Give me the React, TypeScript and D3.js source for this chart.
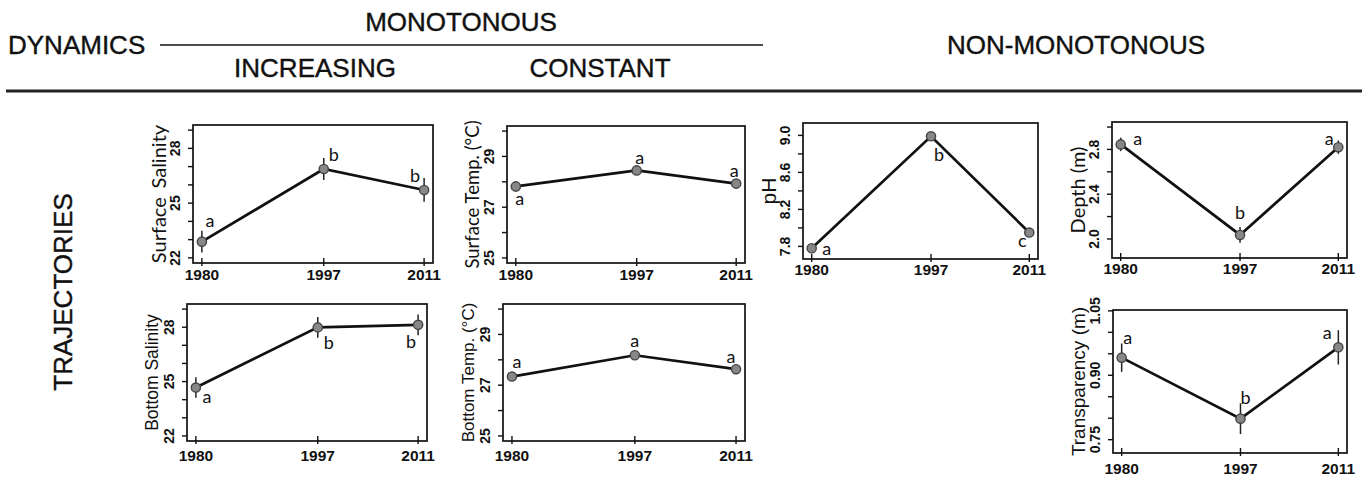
import React from "react";
import * as d3 from "d3";

// ---------- data ----------
const years = [1980, 1997, 2011];

const surfaceSalinity = [22.89, 26.87, 25.72];
const surfaceSalinityErr = [0.6, 0.6, 0.65];
const surfaceSalinityGroups = ["a", "b", "b"];

const surfaceTemp = [27.82, 28.45, 27.93];
const surfaceTempErr = [0.2, 0.05, 0.15];
const surfaceTempGroups = ["a", "a", "a"];

const pHValues = [7.78, 8.99, 7.95];
const pHErr = [0.02, 0.02, 0.02];
const pHGroups = ["a", "b", "c"];

const depth = [2.845, 2.036, 2.82];
const depthErr = [0.06, 0.07, 0.06];
const depthGroups = ["a", "b", "a"];

const bottomSalinity = [24.67, 27.99, 28.13];
const bottomSalinityErr = [0.57, 0.57, 0.57];
const bottomSalinityGroups = ["a", "b", "b"];

const bottomTemp = [27.34, 28.18, 27.63];
const bottomTempErr = [0.12, 0.05, 0.12];
const bottomTempGroups = ["a", "a", "a"];

const transparency = [0.941, 0.799, 0.965];
const transparencyErr = [0.033, 0.036, 0.04];
const transparencyGroups = ["a", "b", "a"];

// ---------- ticks ----------
const salinityTicks = [22, 23, 24, 25, 26, 27, 28, 29];
const salinityTickLabels = [22, 25, 28];
const tempTicks = [25, 26, 27, 28, 29, 30];
const tempTickLabels = [25, 27, 29];
const pHTicks = [7.8, 8.0, 8.2, 8.4, 8.6, 8.8, 9.0];
const pHTickLabels = [7.8, 8.2, 8.6, 9.0];
const depthTicks = [2.0, 2.2, 2.4, 2.6, 2.8, 3.0];
const depthTickLabels = [2.0, 2.4, 2.8];
const transparencyTicks = [0.75, 0.8, 0.85, 0.9, 0.95, 1.0, 1.05];
const transparencyTickLabels = [0.75, 0.9, 1.05];

// ---------- layout ----------
const ARIAL = "'Liberation Sans', Arial, sans-serif";
const CALIBRI = "Lato, 'Open Sans', sans-serif";

type Panel = {
  title: string[];
  titleFont: string;
  titleSize: number;
  titleWeight?: string;
  box: [number, number, number, number]; // x0, y0, x1, y1
  yDomain: [number, number];
  values: number[];
  errs: number[];
  groups: string[];
  ticks: number[];
  tickLabels: number[];
  fmt: (v: number) => string;
  letterOffsets: [number, number][];
  xLabelDy: number;
};

const panels: Panel[] = [
  {
    title: ["Surface", "Salinity"], titleFont: CALIBRI, titleSize: 20,
    box: [193, 125, 433, 263], yDomain: [21.72, 29.28],
    values: surfaceSalinity, errs: surfaceSalinityErr, groups: surfaceSalinityGroups,
    ticks: salinityTicks, tickLabels: salinityTickLabels, fmt: d3.format("d"),
    letterOffsets: [[8, -15], [10, -8], [-9, -8]], xLabelDy: 16.5,
  },
  {
    title: ["Surface Temp. (°C)"], titleFont: CALIBRI, titleSize: 18.5,
    box: [507, 126, 745, 263], yDomain: [24.8, 30.2],
    values: surfaceTemp, errs: surfaceTempErr, groups: surfaceTempGroups,
    ticks: tempTicks, tickLabels: tempTickLabels, fmt: d3.format("d"),
    letterOffsets: [[4, 19], [3, -6], [-2, -7]], xLabelDy: 16.5,
  },
  {
    title: ["pH"], titleFont: ARIAL, titleSize: 21,
    box: [803, 123, 1038, 259], yDomain: [7.664, 9.134],
    values: pHValues, errs: pHErr, groups: pHGroups,
    ticks: pHTicks, tickLabels: pHTickLabels, fmt: d3.format(".1f"),
    letterOffsets: [[15, 7], [8, 25], [-7, 14]], xLabelDy: 16,
  },
  {
    title: ["Depth (m)"], titleFont: CALIBRI, titleSize: 20,
    box: [1112, 122, 1347, 258], yDomain: [1.83, 3.045],
    values: depth, errs: depthErr, groups: depthGroups,
    ticks: depthTicks, tickLabels: depthTickLabels, fmt: d3.format(".1f"),
    letterOffsets: [[17, 1], [0, -16], [-9, -2]], xLabelDy: 16,
  },
  {
    title: ["Bottom Salinity"], titleFont: ARIAL, titleSize: 17.5,
    box: [187, 304, 427, 441], yDomain: [21.72, 29.28],
    values: bottomSalinity, errs: bottomSalinityErr, groups: bottomSalinityGroups,
    ticks: salinityTicks, tickLabels: salinityTickLabels, fmt: d3.format("d"),
    letterOffsets: [[11, 15], [11, 22], [-7, 23]], xLabelDy: 19.5,
  },
  {
    title: ["Bottom Temp. (°C)"], titleFont: ARIAL, titleSize: 17,
    box: [503, 304, 745, 441], yDomain: [24.8, 30.2],
    values: bottomTemp, errs: bottomTempErr, groups: bottomTempGroups,
    ticks: tempTicks, tickLabels: tempTickLabels, fmt: d3.format("d"),
    letterOffsets: [[5, -9], [0, -8.5], [-5, -6]], xLabelDy: 19.5,
  },
  {
    title: ["Transparency (m)"], titleFont: ARIAL, titleSize: 19,
    box: [1113, 310, 1347, 453], yDomain: [0.719, 1.052],
    values: transparency, errs: transparencyErr, groups: transparencyGroups,
    ticks: transparencyTicks, tickLabels: transparencyTickLabels, fmt: d3.format(".2f"),
    letterOffsets: [[6, -14], [5, -15], [-11, -8]], xLabelDy: 21,
  },
];

const xPad = (years[years.length - 1] - years[0]) * 0.04;

function PanelView({ p }: { p: Panel }) {
  const [x0, y0, x1, y1] = p.box;
  const x = d3.scaleLinear().domain([years[0] - xPad, years[years.length - 1] + xPad]).range([x0, x1]);
  const y = d3.scaleLinear().domain(p.yDomain).range([y1, y0]);
  const line = d3
    .line<number>()
    .x((_, i) => x(years[i]))
    .y((v) => y(v));
  const cy = (y0 + y1) / 2;
  const titleX = x0 - 35;
  return (
    <g>
      <rect x={x0} y={y0} width={x1 - x0} height={y1 - y0} fill="none" stroke="#111" strokeWidth={1.7} />
      {p.ticks.map((t) => (
        <line key={"yt" + t} x1={x0 - 5} x2={x0} y1={y(t)} y2={y(t)} stroke="#111" strokeWidth={1.4} />
      ))}
      {p.tickLabels.map((t) => (
        <text
          key={"yl" + t}
          transform={`translate(${x0 - 13},${y(t)}) rotate(-90)`}
          textAnchor="middle"
          fontFamily={ARIAL}
          fontWeight="bold"
          fontSize={14}
          fill="#111"
        >
          {p.fmt(t)}
        </text>
      ))}
      {years.map((yr) => (
        <g key={"xt" + yr}>
          <line x1={x(yr)} x2={x(yr)} y1={y1 - 5} y2={y1 + 3} stroke="#111" strokeWidth={1.4} />
          <text
            x={x(yr)}
            y={y1 + p.xLabelDy}
            textAnchor="middle"
            fontFamily={ARIAL}
            fontWeight="bold"
            fontSize={15.5}
            fill="#111"
          >
            {yr}
          </text>
        </g>
      ))}
      <text
        transform={`translate(${titleX},${cy}) rotate(-90)`}
        textAnchor="middle"
        dominantBaseline="central"
        fontFamily={p.titleFont}
        fontWeight={p.titleWeight || "normal"}
        fontSize={p.titleSize}
        fill="#111"
      >
        {p.title.map((w, i) => (
          <tspan key={i} dx={i === 0 ? 0 : 9}>
            {w}
          </tspan>
        ))}
      </text>
      {p.values.map((v, i) => (
        <line
          key={"e" + i}
          x1={x(years[i])}
          x2={x(years[i])}
          y1={y(v - p.errs[i])}
          y2={y(v + p.errs[i])}
          stroke="#222"
          strokeWidth={1.5}
        />
      ))}
      <path d={line(p.values) || ""} fill="none" stroke="#111" strokeWidth={2.7} />
      {p.values.map((v, i) => (
        <circle key={"c" + i} cx={x(years[i])} cy={y(v)} r={4.6} fill="#878787" stroke="#444" strokeWidth={1.4} />
      ))}
      {p.groups.map((g, i) => (
        <text
          key={"g" + i}
          x={x(years[i]) + p.letterOffsets[i][0]}
          y={y(p.values[i]) + p.letterOffsets[i][1]}
          textAnchor="middle"
          fontFamily={CALIBRI}
          fontSize={18}
          fill="#111"
        >
          {g}
        </text>
      ))}
    </g>
  );
}

export default function App() {
  const W = 1367;
  const H = 479;
  return (
    <svg
      width={W}
      height={H}
      viewBox={`0 0 ${W} ${H}`}
      style={{ position: "absolute", left: 0, top: 0, background: "#fff" }}
    >
      <rect width={W} height={H} fill="#fff" />
      <g fontFamily={ARIAL} fontSize={26} fill="#111" stroke="#111" strokeWidth={0.4}>
        <text x={8} y={54}>DYNAMICS</text>
        <text x={461} y={31} textAnchor="middle">MONOTONOUS</text>
        <text x={315} y={77} textAnchor="middle">INCREASING</text>
        <text x={600} y={77} textAnchor="middle">CONSTANT</text>
        <text x={1076} y={54} textAnchor="middle">NON-MONOTONOUS</text>
        <text transform="translate(72,292) rotate(-90)" textAnchor="middle">TRAJECTORIES</text>
      </g>
      <line x1={160} x2={763} y1={45} y2={45} stroke="#111" strokeWidth={1.6} />
      <line x1={6} x2={1362} y1={91} y2={91} stroke="#222" strokeWidth={2.8} />
      {panels.map((p, i) => (
        <PanelView key={i} p={p} />
      ))}
    </svg>
  );
}
